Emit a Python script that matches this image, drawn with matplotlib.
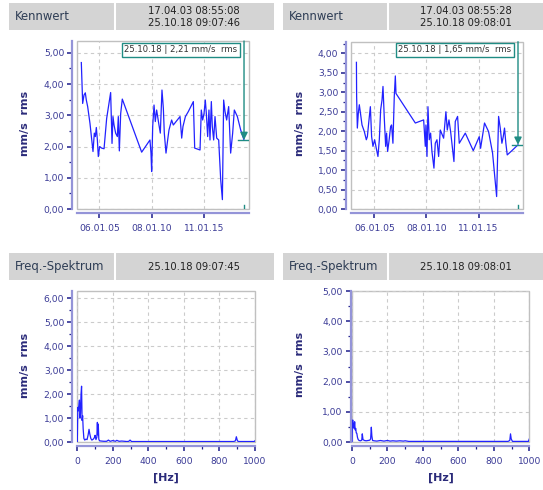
import numpy as np
import pandas as pd
import matplotlib
matplotlib.use('Agg')
import matplotlib.pyplot as plt
import matplotlib.dates as mdates
from matplotlib.ticker import FixedLocator, MultipleLocator, FuncFormatter
from matplotlib.patches import Rectangle

W, H = 543, 490
plt.rcParams['font.family'] = ['DejaVu Sans']

# ---------- data ----------
dates_left = ['2003-04-17','2003-06-03','2003-07-20','2003-09-03','2003-10-08','2003-11-24','2004-02-13',
              '2004-05-28','2004-07-13','2004-08-18','2004-09-21','2004-10-26','2004-11-29','2005-01-15',
              '2005-03-25','2005-06-17','2005-09-16','2006-02-02','2006-03-22','2006-04-24','2006-05-31',
              '2006-07-26','2006-09-24','2006-10-27','2006-12-02','2007-01-18','2007-03-15','2009-01-18',
              '2009-11-03','2009-12-09','2010-01-01','2010-02-06','2010-03-25','2010-05-08','2010-06-24',
              '2010-09-13','2010-10-30','2010-12-27','2011-02-13','2011-03-18','2011-05-16','2011-07-13',
              '2011-08-28','2011-11-28','2012-01-26','2012-09-16','2012-11-13','2012-12-27','2013-03-22',
              '2013-07-02','2013-12-24','2014-02-09','2014-08-14','2014-09-27','2014-11-13','2015-01-01',
              '2015-02-14','2015-03-22','2015-05-07','2015-06-21','2015-07-27','2015-09-12','2015-10-16',
              '2015-12-02','2016-01-18','2016-03-17','2016-05-25','2016-08-03','2016-10-01','2016-11-14',
              '2017-01-01','2017-02-27','2017-05-08','2017-07-16','2017-09-24','2017-11-21','2018-03-07',
              '2018-07-01','2018-10-25']
vals_left = [4.69,3.38,3.65,3.72,3.49,3.28,2.74,1.84,2.43,2.32,2.61,2.23,1.68,2.00,1.95,1.93,2.90,3.73,2.10,2.96,
             2.69,2.43,2.32,2.96,1.86,3.06,3.52,1.82,2.21,1.79,1.20,2.64,3.33,2.80,3.17,2.69,2.43,3.81,3.22,2.43,
             1.79,2.21,2.53,2.85,2.69,2.96,2.27,2.64,2.96,3.12,3.44,1.95,1.89,3.17,2.85,3.06,3.49,3.06,2.32,3.17,
             2.21,3.44,2.64,2.21,2.96,2.27,2.21,0.94,0.30,3.49,3.12,2.85,3.28,1.79,2.43,3.17,2.96,2.53,2.21]

dates_right = ['2003-04-17','2003-04-24','2003-05-19','2003-06-22','2003-07-27','2003-09-13','2003-10-30',
               '2004-01-19','2004-03-29','2004-05-05','2004-06-20','2004-08-18','2004-10-01','2004-11-17',
               '2005-01-15','2005-03-14','2005-05-11','2005-06-28','2005-08-14','2005-10-01','2005-11-04',
               '2005-12-20','2006-02-06','2006-03-11','2006-04-16','2006-06-02','2006-07-30','2006-09-02',
               '2006-10-19','2006-12-05','2007-01-11','2007-02-03','2008-12-13','2009-10-01','2009-11-28',
               '2009-12-20','2010-01-26','2010-03-01','2010-04-16','2010-06-02','2010-07-19','2010-09-27',
               '2010-11-13','2011-01-11','2011-03-11','2011-05-07','2011-09-02','2011-11-21','2012-01-08',
               '2012-03-07','2012-05-04','2012-08-29','2012-10-15','2013-01-04','2013-03-04','2013-10-01',
               '2014-07-08','2015-02-03','2015-03-22','2015-08-07','2015-12-27','2016-05-15','2016-10-05',
               '2016-12-13','2017-02-09','2017-04-08','2017-05-26','2017-07-09','2017-08-25','2017-10-12',
               '2018-03-25','2018-10-25']
vals_right = [3.77,2.89,2.08,2.46,2.68,2.42,2.16,1.99,1.78,1.86,2.21,2.63,1.86,1.61,1.78,1.56,1.35,1.78,2.55,2.80,
              3.15,2.33,1.61,1.95,1.48,1.74,2.12,2.16,1.69,2.89,3.42,2.97,2.21,2.29,1.61,2.16,1.35,2.63,1.78,1.95,
              1.48,1.05,1.69,1.78,1.35,2.03,1.82,2.50,2.03,2.29,1.99,1.22,2.25,2.38,1.69,1.95,1.50,1.86,1.56,2.21,
              1.99,1.44,0.32,2.38,2.08,1.69,1.86,2.08,1.69,1.39,1.50,1.65]

date_ticks = ['2005-01-06', '2010-01-08', '2015-01-11']

spec_left_hz = [0, 3, 5, 8, 12, 15, 18, 21, 24, 27, 30, 33, 37, 42, 48, 55, 61, 66, 70, 76, 82, 90, 96, 100,
                105, 110, 113, 115, 118, 121, 125, 135, 150, 165, 175, 185, 200, 215, 222, 235, 250, 265, 280,
                290, 297, 305, 350, 450, 550, 650, 750, 850, 880, 890, 895, 900, 905, 950, 995, 1000]
spec_left_amp = [0, 1.45, 1.3, 1.47, 1.75, 1.0, 1.2, 2.0, 2.33, 0.9, 1.1, 0.55, 0.15, 0.08, 0.12, 0.1, 0.3,
                 0.53, 0.35, 0.15, 0.08, 0.12, 0.18, 0.28, 0.1, 0.2, 0.82, 0.3, 0.75, 0.12, 0.05, 0.04, 0.03,
                 0.03, 0.08, 0.03, 0.06, 0.03, 0.07, 0.03, 0.04, 0.03, 0.02, 0.03, 0.08, 0.02, 0.02, 0.02, 0.02,
                 0.02, 0.02, 0.02, 0.02, 0.05, 0.22, 0.08, 0.02, 0.02, 0.02, 0.05]

spec_right_hz = [0, 2, 4, 7, 9, 12, 15, 18, 21, 24, 27, 31, 35, 40, 48, 55, 58, 62, 70, 80, 90, 100, 105, 109,
                 112, 116, 125, 140, 160, 180, 200, 215, 230, 250, 270, 290, 300, 320, 400, 500, 600, 700, 800,
                 880, 890, 894, 898, 905, 950, 995, 1000]
spec_right_amp = [0, 0.6, 0.73, 0.5, 0.62, 0.45, 0.67, 0.4, 0.45, 0.3, 0.29, 0.15, 0.08, 0.05, 0.04, 0.06,
                  0.27, 0.08, 0.05, 0.04, 0.05, 0.06, 0.1, 0.49, 0.2, 0.05, 0.04, 0.03, 0.05, 0.03, 0.05, 0.03,
                  0.04, 0.03, 0.04, 0.03, 0.04, 0.02, 0.02, 0.02, 0.02, 0.02, 0.02, 0.02, 0.05, 0.27, 0.1, 0.02,
                  0.02, 0.02, 0.1]

# ---------- colours ----------
LINE = '#2222ff'
SPINE = '#9494d8'
TICK = '#1c1c8c'
LAB = '#3a3a96'
TEAL = '#1f8c84'
HDR = '#d4d4d4'
GRID = '#cbcbcb'

fig = plt.figure(figsize=(W/100, H/100), dpi=100)
bg = fig.add_axes([0, 0, 1, 1])
bg.set_xlim(0, W); bg.set_ylim(H, 0); bg.axis('off')

def header(x0, x1, y0, y1, xdiv, title, stamps):
    bg.add_patch(Rectangle((x0, y0), x1-x0, y1-y0, fc=HDR, ec='none'))
    bg.plot([xdiv, xdiv], [y0, y1], color='white', lw=1.5)
    bg.text(x0+6, (y0+y1)/2, title, fontsize=8.4, color='#2e3d55', va='center', ha='left')
    cx = (xdiv+x1)/2
    if len(stamps) == 2:
        bg.text(cx, y0+7.5, stamps[0], fontsize=7.2, color='#222222', va='center', ha='center')
        bg.text(cx, y0+20.5, stamps[1], fontsize=7.2, color='#222222', va='center', ha='center')
    else:
        bg.text(cx, (y0+y1)/2, stamps[0], fontsize=7.2, color='#222222', va='center', ha='center')

header(9, 274, 3, 30, 114.5, 'Kennwert', ['17.04.03 08:55:08', '25.10.18 09:07:46'])
header(283, 543, 3, 30, 388, 'Kennwert', ['17.04.03 08:55:28', '25.10.18 09:08:01'])
header(9, 274, 253, 280, 114.5, 'Freq.-Spektrum', ['25.10.18 09:07:45'])
header(283, 543, 253, 280, 388, 'Freq.-Spektrum', ['25.10.18 09:08:01'])

for x, y in [(25, 123), (300, 123), (25, 365), (300, 364)]:
    bg.text(x, y, 'mm/s  rms', rotation=90, fontsize=8, fontweight='bold', color='#2b2b7a',
            ha='center', va='center')
for x in [166, 441]:
    bg.text(x, 478, '[Hz]', fontsize=8, fontweight='bold', color='#2b2b7a', ha='center', va='center')

comma = FuncFormatter(lambda v, p: f'{v:.2f}'.replace('.', ','))

def make_ax(x0, y0, x1, y1, left_out=3.6):
    ax = fig.add_axes([x0/W, 1-y1/H, (x1-x0)/W, (y1-y0)/H])
    ax.patch.set_alpha(0)
    for s in ['top', 'right']:
        ax.spines[s].set_visible(False)
    ax.spines['left'].set_position(('outward', left_out))
    ax.spines['bottom'].set_position(('outward', 3))
    for s in ['left', 'bottom']:
        ax.spines[s].set_color(SPINE)
        ax.spines[s].set_linewidth(1.6)
    ax.add_patch(Rectangle((0, 0), 1, 1, transform=ax.transAxes, fill=False, ec='#c0c0c0',
                           lw=1, clip_on=False, zorder=1))
    ax.tick_params(which='both', direction='out', color=TICK, labelcolor=LAB, labelsize=6.6)
    ax.tick_params(which='major', length=3.8, width=1.1)
    ax.tick_params(which='minor', length=2.2, width=0.9)
    ax.tick_params(axis='y', pad=2)
    ax.tick_params(axis='x', pad=4.3)
    ax.grid(True, which='major', color=GRID, ls=(0, (3, 3)), lw=0.8)
    ax.yaxis.set_major_formatter(comma)
    return ax

def trend(ax, dates, vals, ymax, ystep, xlim, txt_xy, hline_from):
    d = pd.to_datetime(dates)
    ax.plot(d, vals, color=LINE, lw=0.9, zorder=3)
    ax.set_xlim(pd.to_datetime(xlim[0]), pd.to_datetime(xlim[1]))
    ax.set_ylim(0, ymax)
    ax.yaxis.set_major_locator(MultipleLocator(ystep))
    ax.yaxis.set_minor_locator(MultipleLocator(ystep/2))
    ax.xaxis.set_major_locator(FixedLocator(mdates.date2num(pd.to_datetime(date_ticks))))
    ax.xaxis.set_major_formatter(mdates.DateFormatter('%d.%m.%y'))
    # marker for the latest value
    last_d, last_v = d[-1], vals[-1]
    ax.annotate('', xy=(last_d, last_v), xytext=(last_d, ymax),
                arrowprops=dict(arrowstyle='-|>', color=TEAL, lw=1, mutation_scale=11,
                                shrinkA=0, shrinkB=0), zorder=5)
    ax.axhline(last_v, xmin=hline_from, xmax=1.0, color=TEAL, lw=1, zorder=5)
    ax.axvline(last_d, ymin=0, ymax=0.025, color=TEAL, lw=1, zorder=5)
    label = f"{last_d:%d.%m.%y} | " + f"{last_v:.2f}".replace('.', ',') + ' mm/s  rms'
    ax.text(txt_xy[0], txt_xy[1], label, transform=ax.transAxes, ha='right', va='center',
            fontsize=6.1, color='#333333', zorder=6,
            bbox=dict(boxstyle='square,pad=0.3', fc='white', ec=TEAL, lw=1))

ax1 = make_ax(77.3, 41, 249.3, 209)
trend(ax1, dates_left, vals_left, 5.38, 1.0, ('2002-11-28', '2019-04-27'), (0.93, 0.947), 0.934)
ax2 = make_ax(351.3, 41.7, 522.7, 209)
trend(ax2, dates_right, vals_right, 4.3, 0.5, ('2002-10-19', '2019-04-08'), (0.935, 0.952), 0.938)

def spectrum(ax, hz, amp, ymax):
    ax.plot(hz, amp, color=LINE, lw=0.9, zorder=3)
    ax.set_xlim(0, 1000)
    ax.set_ylim(0, ymax)
    ax.xaxis.set_major_locator(MultipleLocator(200))
    ax.xaxis.set_minor_locator(MultipleLocator(100))
    ax.xaxis.set_major_formatter(FuncFormatter(lambda v, p: f'{v:.0f}'))
    ax.yaxis.set_major_locator(MultipleLocator(1))
    ax.yaxis.set_minor_locator(MultipleLocator(0.5))

ax3 = make_ax(77.3, 290.7, 255, 442)
spectrum(ax3, spec_left_hz, spec_left_amp, 6.32)
ax4 = make_ax(352, 291, 529.3, 442, left_out=0.8)
spectrum(ax4, spec_right_hz, spec_right_amp, 5.0)

fig.savefig('out.png', dpi=100)
